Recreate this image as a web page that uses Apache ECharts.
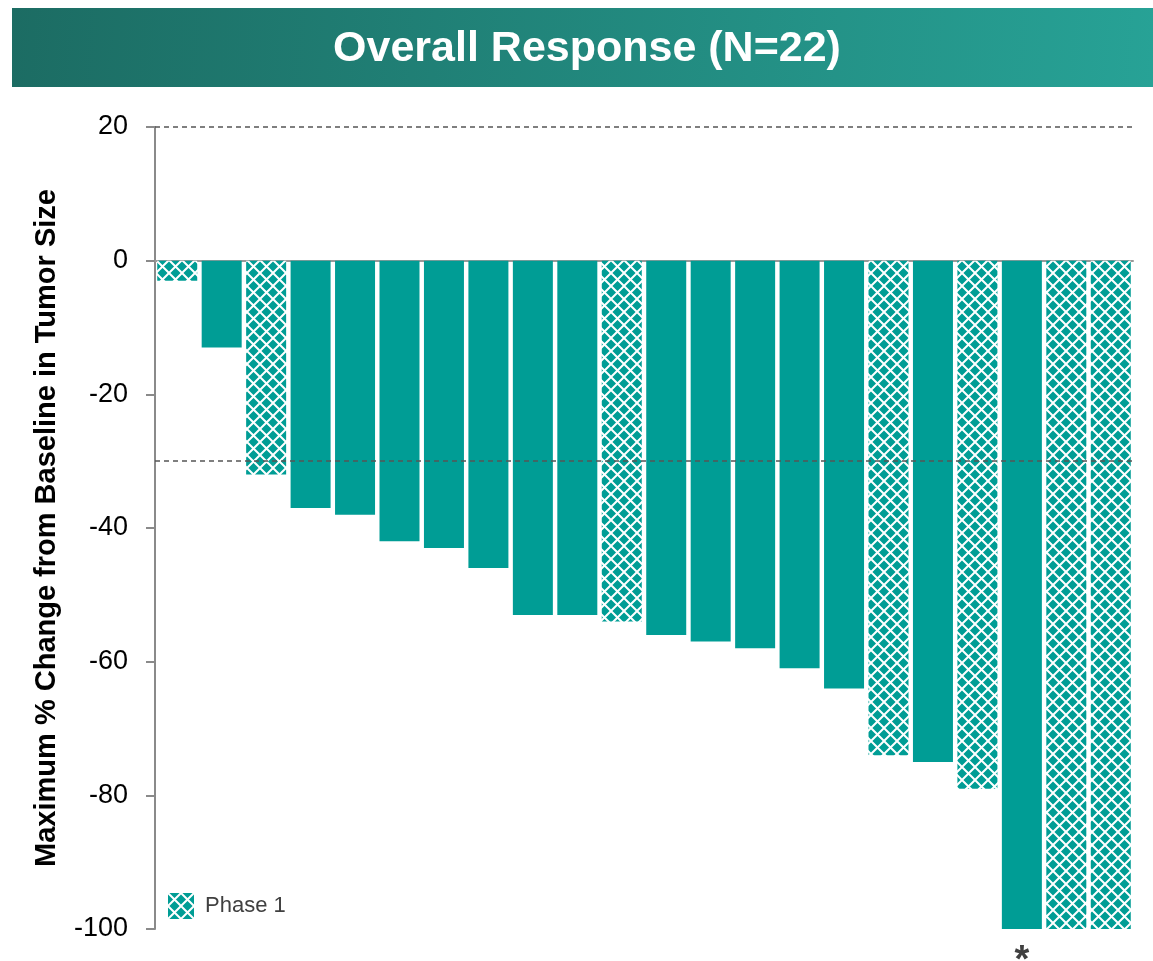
<!DOCTYPE html>
<html>
<head>
<meta charset="utf-8">
<title>Overall Response (N=22)</title>
<script src="https://cdn.jsdelivr.net/npm/echarts@6/dist/echarts.min.js"></script>
<style>
  html, body { margin: 0; padding: 0; background: #ffffff; }
  #chart { width: 1153px; height: 961px; }
</style>
</head>
<body>
<div id="chart"></div>
<script>
// Patients ordered by best response
const patients = ['1','2','3','4','5','6','7','8','9','10','11','12','13','14','15','16','17','18','19','20','21','22'];
// Maximum % change from baseline in tumor size
const changes = [-3, -13, -32, -37, -38, -42, -43, -46, -53, -53, -54, -56, -57, -58, -61, -64, -74, -75, -79, -100, -100, -100];
// Whether the patient was enrolled in Phase 1
const phase1 = [true, false, true, false, false, false, false, false, false, false, true, false, false, false, false, false, true, false, true, false, true, true];
// Patient flagged with an asterisk under the bar
const flagged = ['20'];
// Reference thresholds drawn as dashed lines
const refLines = [20, -30];
const yTicks = [20, 0, -20, -40, -60, -80, -100];

const TEAL = '#009d95';

// Diamond lattice fill used for Phase 1 bars
function latticePattern() {
  const s = 13;
  const c = document.createElement('canvas');
  c.width = s; c.height = s;
  const g = c.getContext('2d');
  g.fillStyle = TEAL;
  g.fillRect(0, 0, s, s);
  g.strokeStyle = '#ffffff';
  g.lineWidth = 2;
  g.beginPath();
  g.moveTo(0, 0); g.lineTo(s, s);
  g.moveTo(s, 0); g.lineTo(0, s);
  g.stroke();
  return { image: c, repeat: 'repeat' };
}
const lattice = latticePattern();

const phaseData = changes.map((v, i) => phase1[i] ? v : '-');
const otherData = changes.map((v, i) => {
  if (phase1[i]) return '-';
  if (flagged.indexOf(patients[i]) >= 0) {
    return {
      value: v,
      label: {
        show: true, position: 'bottom', distance: 14, formatter: '*',
        fontSize: 38, fontWeight: 'bold', color: '#404040',
        fontFamily: 'Liberation Sans, Arial, sans-serif'
      }
    };
  }
  return v;
});

const chart = echarts.init(document.getElementById('chart'), null, { renderer: 'canvas' });

chart.setOption({
  animation: false,
  backgroundColor: '#ffffff',
  textStyle: { fontFamily: 'Liberation Sans, Arial, sans-serif' },
  graphic: [
    {
      type: 'rect',
      shape: { x: 12, y: 8, width: 1141, height: 79 },
      style: {
        fill: new echarts.graphic.LinearGradient(0, 0, 1, 1, [
          { offset: 0, color: '#1c6c63' },
          { offset: 1, color: '#27a296' }
        ])
      },
      z: 0
    },
    {
      type: 'text',
      x: 587, y: 49,
      style: {
        text: 'Overall Response (N=22)',
        fill: '#ffffff',
        font: 'bold 43px "Liberation Sans", Arial, sans-serif',
        align: 'center',
        verticalAlign: 'middle'
      },
      z: 1
    }
  ],
  grid: { left: 155, right: 20, top: 127, bottom: 32, containLabel: false },
  legend: {
    data: ['Phase 1'],
    left: 163, top: 888,
    icon: 'rect',
    itemWidth: 26, itemHeight: 26,
    itemGap: 10,
    textStyle: { fontSize: 22, color: '#404040', padding: [0, 0, 0, 6] },
    selectedMode: false
  },
  xAxis: {
    type: 'category',
    data: patients,
    axisLine: { onZero: true, lineStyle: { color: '#9a9a9a', width: 2 } },
    axisTick: { show: false },
    axisLabel: { show: false },
    splitLine: { show: false }
  },
  yAxis: {
    type: 'value',
    min: yTicks[yTicks.length - 1],
    max: yTicks[0],
    interval: 20,
    name: 'Maximum % Change from Baseline in Tumor Size',
    nameLocation: 'middle',
    nameGap: 94,
    nameTextStyle: { fontSize: 29, fontWeight: 'bold', color: '#000000' },
    axisLine: { show: true, lineStyle: { color: '#8a8a8a', width: 2 } },
    axisTick: { show: true, length: 9, lineStyle: { color: '#8a8a8a', width: 2 } },
    axisLabel: { fontSize: 27, color: '#000000', margin: 27 },
    splitLine: { show: false }
  },
  series: [
    {
      name: 'Phase 1',
      type: 'bar',
      stack: 'resp',
      data: phaseData,
      barWidth: 40,
      itemStyle: { color: lattice },
      markLine: {
        silent: true,
        symbol: 'none',
        label: { show: false },
        lineStyle: { type: [5, 4], color: '#555555', width: 1.6 },
        data: refLines.map(v => ({ yAxis: v })),
        z: 10
      },
      z: 2
    },
    {
      name: 'Other',
      type: 'bar',
      stack: 'resp',
      data: otherData,
      barWidth: 40,
      itemStyle: { color: TEAL },
      z: 2
    }
  ]
});
</script>
</body>
</html>
